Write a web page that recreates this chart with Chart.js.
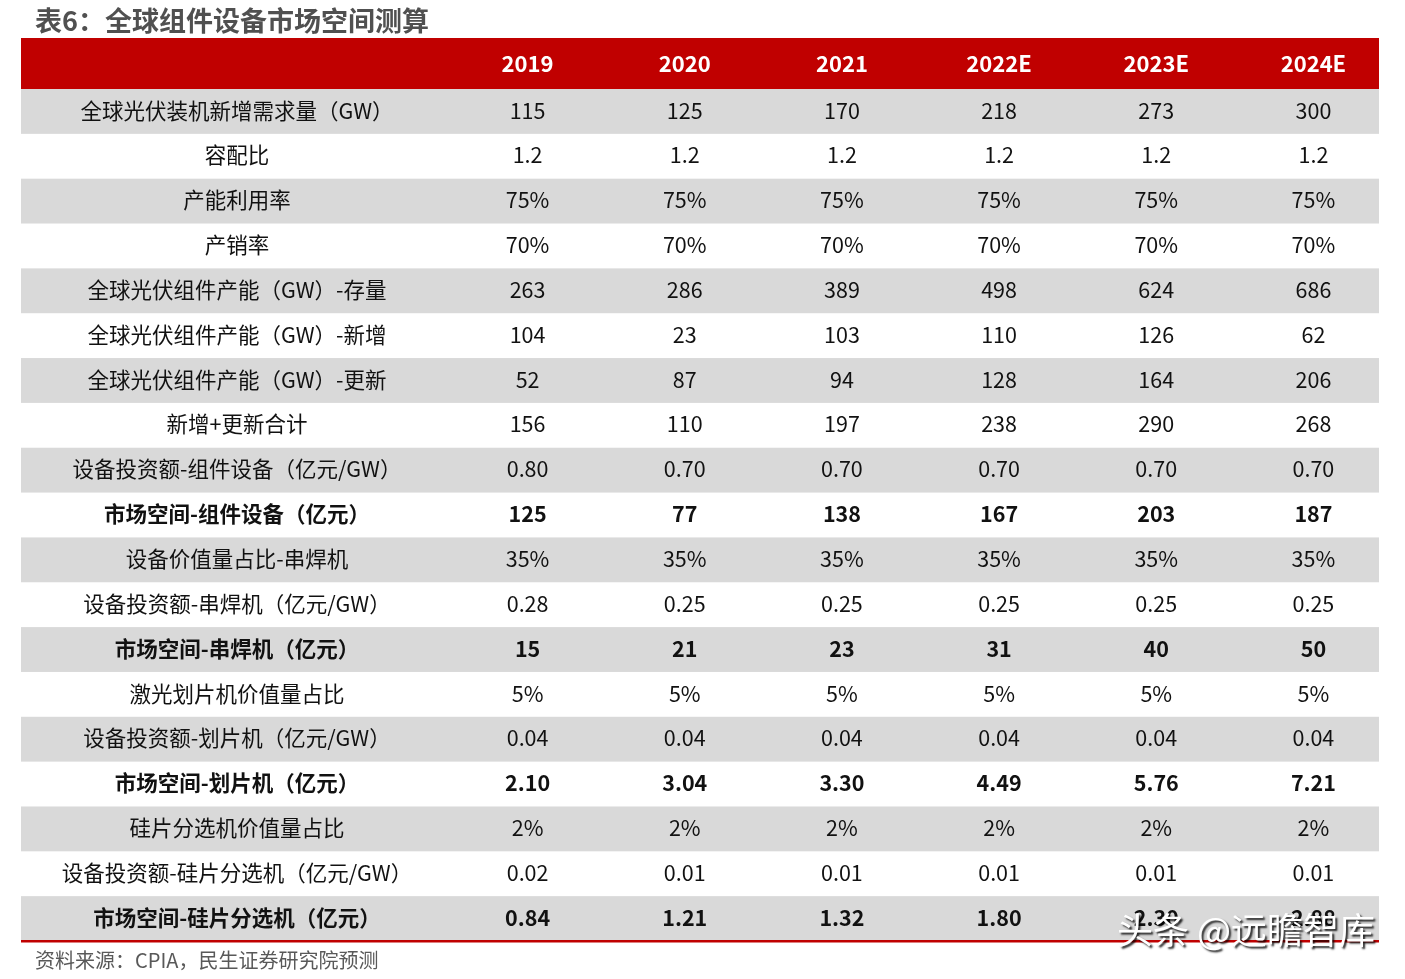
<!DOCTYPE html>
<html>
<head>
<meta charset="utf-8">
<script src="https://cdn.jsdelivr.net/npm/chart.js@4.4.1/dist/chart.umd.min.js"></script>
<style>
html,body{margin:0;padding:0;background:#ffffff;}
#wrap{width:1405px;height:979px;position:relative;}
</style>
</head>
<body>
<div id="wrap"><canvas id="c" width="1405" height="979"></canvas></div>
<script>
// ---------------- data ----------------
const titleText = '表6：全球组件设备市场空间测算';
const sourceText = '资料来源：CPIA，民生证券研究院预测';
const watermarkText = '头条 @远瞻智库';

const years = ['2019', '2020', '2021', '2022E', '2023E', '2024E'];

const rowLabels = [
  '全球光伏装机新增需求量（GW）',
  '容配比',
  '产能利用率',
  '产销率',
  '全球光伏组件产能（GW）-存量',
  '全球光伏组件产能（GW）-新增',
  '全球光伏组件产能（GW）-更新',
  '新增+更新合计',
  '设备投资额-组件设备（亿元/GW）',
  '市场空间-组件设备（亿元）',
  '设备价值量占比-串焊机',
  '设备投资额-串焊机（亿元/GW）',
  '市场空间-串焊机（亿元）',
  '激光划片机价值量占比',
  '设备投资额-划片机（亿元/GW）',
  '市场空间-划片机（亿元）',
  '硅片分选机价值量占比',
  '设备投资额-硅片分选机（亿元/GW）',
  '市场空间-硅片分选机（亿元）'
];

const demandGW        = [115, 125, 170, 218, 273, 300];
const dcAcRatio       = [1.2, 1.2, 1.2, 1.2, 1.2, 1.2];
const utilizationPct  = [75, 75, 75, 75, 75, 75];
const sellThroughPct  = [70, 70, 70, 70, 70, 70];
const capacityStock   = [263, 286, 389, 498, 624, 686];
const capacityNew     = [104, 23, 103, 110, 126, 62];
const capacityRenew   = [52, 87, 94, 128, 164, 206];
const newPlusRenew    = [156, 110, 197, 238, 290, 268];
const moduleInvest    = [0.80, 0.70, 0.70, 0.70, 0.70, 0.70];
const moduleMarket    = [125, 77, 138, 167, 203, 187];
const stringerSharePct= [35, 35, 35, 35, 35, 35];
const stringerInvest  = [0.28, 0.25, 0.25, 0.25, 0.25, 0.25];
const stringerMarket  = [15, 21, 23, 31, 40, 50];
const laserSharePct   = [5, 5, 5, 5, 5, 5];
const laserInvest     = [0.04, 0.04, 0.04, 0.04, 0.04, 0.04];
const laserMarket     = [2.10, 3.04, 3.30, 4.49, 5.76, 7.21];
const sorterSharePct  = [2, 2, 2, 2, 2, 2];
const sorterInvest    = [0.02, 0.01, 0.01, 0.01, 0.01, 0.01];
const sorterMarket    = [0.84, 1.21, 1.32, 1.80, 2.30, 2.88];

const rowValues = [demandGW, dcAcRatio, utilizationPct, sellThroughPct, capacityStock,
  capacityNew, capacityRenew, newPlusRenew, moduleInvest, moduleMarket, stringerSharePct,
  stringerInvest, stringerMarket, laserSharePct, laserInvest, laserMarket, sorterSharePct,
  sorterInvest, sorterMarket];
const rowFormats = ['int', 'd1', 'pct', 'pct', 'int', 'int', 'int', 'int', 'd2', 'int', 'pct',
  'd2', 'int', 'pct', 'd2', 'd2', 'pct', 'd2', 'd2'];
const boldRows = [9, 12, 15, 18];

// ---------------- style ----------------
const FONT = "'Noto Sans CJK SC', 'Noto Sans', sans-serif";
const RED = '#C00000';
const GRAY = '#D9D9D9';
const TABLE_LEFT = 21;
const TABLE_RIGHT = 1379;

function fmt(v, type) {
  if (type === 'int') return String(Math.round(v));
  if (type === 'd1') return v.toFixed(1);
  if (type === 'd2') return v.toFixed(2);
  if (type === 'pct') return v + '%';
  return String(v);
}

const datasets = rowLabels.map((lab, i) => ({
  label: lab,
  data: years.map(y => ({ x: y, y: lab })),
  cellText: rowValues[i].map(v => fmt(v, rowFormats[i])),
  bold: boldRows.includes(i),
  pointRadius: 0,
  pointHoverRadius: 0
}));

const tablePlugin = {
  id: 'tablePlugin',
  beforeDraw(chart) {
    const ctx = chart.ctx;
    const xs = chart.scales.x, ys = chart.scales.y;
    const band = ys.getPixelForValue(1) - ys.getPixelForValue(0);
    ctx.save();
    ctx.fillStyle = '#ffffff';
    ctx.fillRect(0, 0, chart.width, chart.height);
    // title
    ctx.fillStyle = '#505050';
    ctx.font = 'bold 27px ' + FONT;
    ctx.textAlign = 'left';
    ctx.textBaseline = 'middle';
    ctx.fillText(titleText, 35, 21);
    // header band
    ctx.fillStyle = RED;
    ctx.fillRect(TABLE_LEFT, xs.top, TABLE_RIGHT - TABLE_LEFT, xs.bottom - xs.top);
    // stripes
    ctx.fillStyle = GRAY;
    rowLabels.forEach((lab, i) => {
      if (i % 2 === 0) {
        const cy = ys.getPixelForValue(i);
        ctx.fillRect(TABLE_LEFT, cy - band / 2, TABLE_RIGHT - TABLE_LEFT, band);
      }
    });
    // header labels
    ctx.fillStyle = '#ffffff';
    ctx.font = 'bold 22px ' + FONT;
    ctx.textAlign = 'center';
    years.forEach((y, j) => {
      ctx.fillText(y, xs.getPixelForValue(j), (xs.top + xs.bottom) / 2);
    });
    // row labels
    const labelX = (TABLE_LEFT + chart.chartArea.left) / 2 + 2;
    ctx.fillStyle = '#111111';
    rowLabels.forEach((lab, i) => {
      ctx.font = (boldRows.includes(i) ? 'bold ' : '') + '21.5px ' + FONT;
      ctx.fillText(lab, labelX, ys.getPixelForValue(i) - 1);
    });
    ctx.restore();
  },
  afterDatasetsDraw(chart) {
    const ctx = chart.ctx;
    ctx.save();
    ctx.textAlign = 'center';
    ctx.textBaseline = 'middle';
    ctx.fillStyle = '#111111';
    chart.data.datasets.forEach((ds, i) => {
      const meta = chart.getDatasetMeta(i);
      ctx.font = (ds.bold ? 'bold ' : '') + '21.5px ' + FONT;
      meta.data.forEach((el, j) => {
        ctx.fillText(ds.cellText[j], el.x, el.y - 1);
      });
    });
    // bottom red rule
    ctx.fillStyle = RED;
    ctx.fillRect(TABLE_LEFT, chart.chartArea.bottom - 1, TABLE_RIGHT - TABLE_LEFT, 2.5);
    // source note
    ctx.textAlign = 'left';
    ctx.fillStyle = '#595959';
    ctx.font = '20px ' + FONT;
    ctx.fillText(sourceText, 35, 960);
    // watermark
    ctx.font = '36px ' + FONT;
    ctx.shadowColor = 'rgba(0,0,0,0.85)';
    ctx.shadowOffsetX = 2;
    ctx.shadowOffsetY = 2;
    ctx.shadowBlur = 2;
    ctx.fillStyle = '#ffffff';
    ctx.fillText(watermarkText, 1117, 930);
    ctx.restore();
  }
};

new Chart(document.getElementById('c'), {
  type: 'scatter',
  data: { datasets },
  options: {
    responsive: false,
    animation: false,
    devicePixelRatio: 1,
    layout: { padding: { left: 21, right: 13, top: 38, bottom: 38 } },
    plugins: { legend: { display: false }, tooltip: { enabled: false }, title: { display: false } },
    events: [],
    scales: {
      x: {
        type: 'category',
        labels: years,
        position: 'top',
        offset: true,
        grid: { display: false },
        border: { display: false },
        ticks: { display: false },
        afterFit(scale) { scale.height = 51; }
      },
      y: {
        type: 'category',
        labels: rowLabels,
        position: 'left',
        offset: true,
        grid: { display: false },
        border: { display: false },
        ticks: { display: false },
        afterFit(scale) { scale.width = 428; }
      }
    }
  },
  plugins: [tablePlugin]
});
</script>
</body>
</html>
